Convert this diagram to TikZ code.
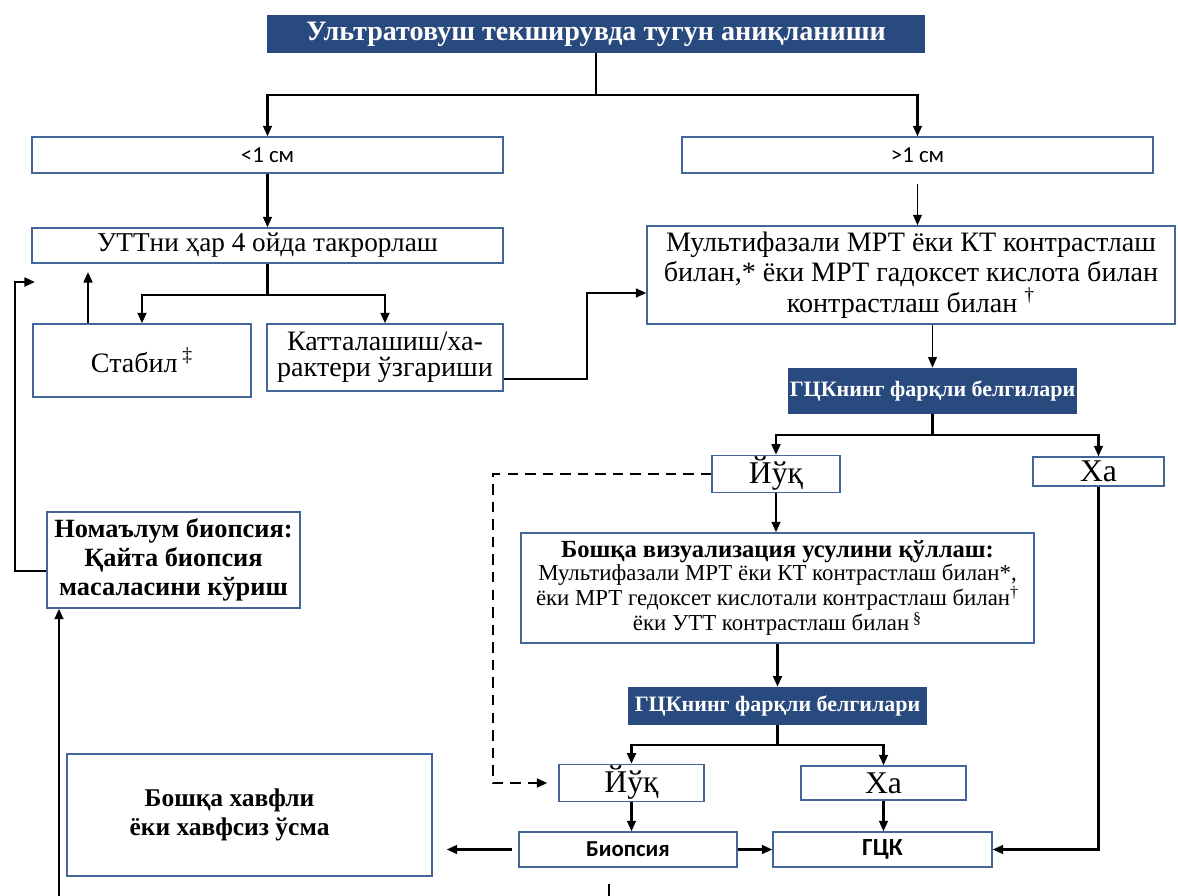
\documentclass[tikz,border=0pt]{standalone}
\usepackage{fontspec}
\setmainfont{Liberation Serif}
\newfontfamily\calfont{Carlito}
\usetikzlibrary{arrows.meta}
\definecolor{hdrblue}{RGB}{41,74,126}
\definecolor{boxline}{RGB}{66,102,152}
\newcommand{\fs}[2]{\fontsize{#1}{#2}\selectfont}

\begin{document}
\begin{tikzpicture}[x=0.02cm,y=-0.02cm,
	box/.style={draw=boxline, line width=0.8pt, fill=white, align=center, inner sep=1pt},
	hdr/.style={fill=hdrblue, text=white, align=center, inner sep=1pt},
	arr/.style={line width=1.3pt, -{Triangle[length=6pt,width=5pt]}},
	thinarr/.style={line width=0.8pt, -{Triangle[length=6pt,width=5pt]}},
	dasharr/.style={arr, dash pattern=on 6pt off 4pt}]
	\useasboundingbox (0,0) rectangle (1178,896);

	% top part
	\node[hdr, minimum width=13.16cm, minimum height=0.76cm, font=\bfseries\fs{16}{19}] (title) at (596,34) {Ультратовуш текширувда тугун аниқланиши};
	\node[box, minimum width=9.42cm, minimum height=0.72cm, font=\calfont\fs{13}{14}] (lt1) at (267.5,155) {<1 см};
	\node[box, minimum width=9.42cm, minimum height=0.72cm, font=\calfont\fs{13}{14}] (gt1) at (917.5,155) {>1 см};
	\node[box, minimum width=9.42cm, minimum height=0.7cm, font=\fs{15.5}{17}] (rep) at (267.5,245.5) {УТТни ҳар 4 ойда такрорлаш};
	\node[box, minimum width=4.36cm, minimum height=1.46cm, font=\fs{16}{18}] (stab) at (142,360.5) {Стабил\,\textsuperscript{‡}};
	\node[box, minimum width=4.72cm, minimum height=1.34cm, font=\fs{16}{15}] (grow) at (385,357.5) {Катталашиш/ха-\\рактери ўзгариши};
	\node[box, minimum width=10.56cm, minimum height=1.96cm, font=\fs{16}{17.5}] (mri) at (911,275) {Мультифазали МРТ ёки КТ контрастлаш\\билан,* ёки МРТ гадоксет кислота билан\\контрастлаш билан \textsuperscript{†}};

	% right branch
	\node[hdr, minimum width=5.62cm, minimum height=0.92cm, font=\bfseries\fs{12.5}{15}] (hcc1) at (932.5,391) {ГЦКнинг фарқли белгилари};
	\node[box, minimum width=2.56cm, minimum height=0.68cm, font=\fs{18}{18}] (no1) at (776,474) {Йўқ};
	\node[box, minimum width=2.62cm, minimum height=0.58cm, font=\fs{18}{18}] (yes1) at (1098.5,471.5) {Ха};
	\node[box, minimum width=10.26cm, minimum height=2.2cm, font=\fs{13}{13}] (other) at (777.5,588) {{\fs{14}{14}\bfseries Бошқа визуализация усулини қўллаш:}\\Мультифазали МРТ ёки КТ контрастлаш билан*,\\ёки МРТ гедоксет кислотали контрастлаш билан\textsuperscript{†}\\ёки УТТ контрастлаш билан\,\textsuperscript{§}};
	\node[hdr, minimum width=5.98cm, minimum height=0.76cm, font=\bfseries\fs{12.5}{15}] (hcc2) at (777.5,706) {ГЦКнинг фарқли белгилари};
	\node[box, minimum width=2.9cm, minimum height=0.68cm, font=\fs{18}{18}] (no2) at (631.5,783) {Йўқ};
	\node[box, minimum width=3.3cm, minimum height=0.68cm, font=\fs{18}{18}] (yes2) at (883.5,783) {Ха};
	\node[box, minimum width=4.36cm, minimum height=0.7cm, font=\calfont\bfseries\fs{13}{15}] (biop) at (628,849.5) {Биопсия};
	\node[box, minimum width=4.38cm, minimum height=0.7cm, font=\calfont\bfseries\fs{14}{16}] (hcc) at (882.5,849.5) {ГЦК};

	% left bottom
	\node[box, minimum width=7.3cm, minimum height=2.44cm, font=\bfseries\fs{14.5}{16.4}] (tum) at (249.5,815) {Бошқа хавфли\hspace*{0.8cm}\\ёки хавфсиз ўсма\hspace*{0.8cm}};
	\node[box, minimum width=5.06cm, minimum height=1.92cm, font=\bfseries\fs{15}{16.4}] (unk) at (173.5,560) {Номаълум биопсия:\\Қайта биопсия\\масаласини кўриш};

	\coordinate (j1) at (596,95);
	\coordinate (j2) at (267.5,295);
	\coordinate (j3) at (932.5,435);
	\coordinate (j4) at (777.5,745);
	\coordinate (s1) at (88,272);
	\coordinate (d1) at (493,0);
	\coordinate (b1) at (609,884);
	\coordinate (b2) at (59,896);
	\coordinate (u1) at (15,282);
	\coordinate (u2) at (35,282);

	\draw[line width=1.3pt] (title) -- (j1);
	\foreach \n in {lt1,gt1}{
	  \draw[arr] (j1) -| (\n);
	}
	\draw[arr] (lt1) -- (rep);
	\draw[thinarr, shorten <=0.2cm] (gt1.south) -- (gt1.south |- mri.north);

	\draw[line width=1.3pt] (rep) -- (j2);
	\foreach \n in {stab,grow}{
	  \draw[arr] (j2) -| (\n);
	}
	\draw[arr] (stab.north -| s1) -- (s1);
	\draw[arr] (grow.east |- 0,379) -- (587,379) -- (587,293) -- (mri.west |- 0,293);

	\draw[thinarr] (mri.south -| hcc1) -- (hcc1);
	\draw[line width=1.3pt] (hcc1) -- (j3);
	\foreach \n in {no1,yes1}{
	  \draw[arr] (j3) -| (\n);
	}
	\draw[arr] (no1) -- (no1 |- other.north);
	\draw[dasharr, shorten >=0.22cm] (no1.west) -| (d1 |- no2.west) -- (no2.west);

	\draw[arr] (other.south -| hcc2) -- (hcc2);
	\draw[line width=1.3pt] (hcc2) -- (j4);
	\foreach \n in {no2,yes2}{
	  \draw[arr] (j4) -| (\n);
	}
	\draw[arr] (no2) -- (no2 |- biop.north);
	\draw[arr] (yes2) -- (yes2 |- hcc.north);
	\draw[arr] (biop) -- (hcc);
	\draw[arr] (yes1) |- (hcc);
	\draw[arr, shorten <=0.12cm, shorten >=0.28cm] (biop.west) -- (tum.east |- biop.west);

	\draw[line width=1.3pt] (b1) -- (b1 |- 0,896);
	\draw[arr] (b2) -- (b2 |- unk.south);
	\draw[arr] (unk.west |- 0,571) -| (u1) -- (u2);
\end{tikzpicture}
\end{document}
